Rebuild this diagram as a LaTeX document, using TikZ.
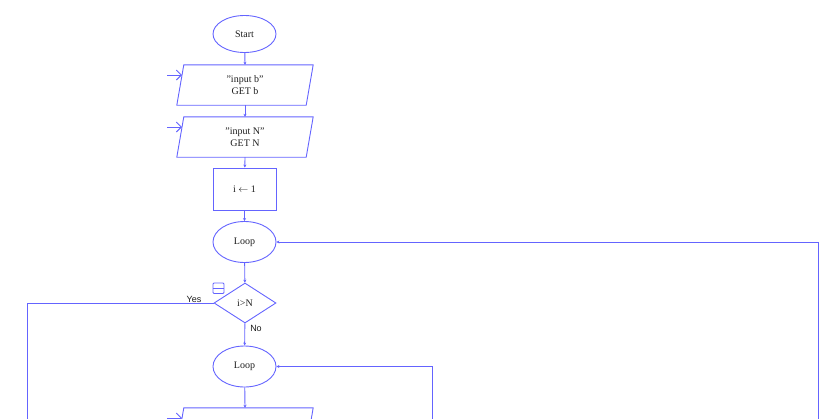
\documentclass[tikz,border=0pt]{standalone}
\usepackage{fontspec}
\setmainfont{Liberation Serif}
\newfontfamily\labfont{Liberation Sans}
\usetikzlibrary{shapes.geometric,arrows.meta}
\definecolor{fl}{RGB}{100,100,255}
\definecolor{tx}{RGB}{30,30,30}
\begin{document}
\begin{tikzpicture}[x=1pt,y=-1pt,
  every node/.style={text=tx,font=\fontsize{10}{11.5}\selectfont},
  term/.style={ellipse,draw=fl,line width=0.9pt,minimum width=63pt,minimum height=37pt,inner sep=0pt},
  io/.style={minimum width=129pt,minimum height=40pt,inner sep=0pt,align=center},
  proc/.style={rectangle,draw=fl,line width=0.9pt,minimum width=63pt,minimum height=42pt,inner sep=0pt},
  dec/.style={diamond,draw=fl,line width=0.9pt,minimum width=62pt,minimum height=40pt,shape aspect=1.55,inner sep=0pt},
  flow/.style={draw=fl,line width=0.9pt,-{Stealth[length=3pt,width=3pt]}},
  plain/.style={draw=fl,line width=0.9pt},
  inarr/.style={draw=fl,line width=0.9pt,-{Straight Barb[length=5pt,width=10pt]}},
  lab/.style={font=\labfont\fontsize{9}{10}\selectfont,text=tx,inner sep=0pt}
]
\useasboundingbox (0,0) rectangle (826,418);

% nodes
\node[term] (start) at (244.5,34) {Start};
\node[io] (p1) at (245,85) {"input b"\\GET b};
\draw[plain] ([xshift=3.5pt]p1.north west) -- ([xshift=3.5pt]p1.north east) -- ([xshift=-3.5pt]p1.south east) -- ([xshift=-3.5pt]p1.south west) -- cycle;
\node[io] (p2) at (245,137) {"input N"\\GET N};
\draw[plain] ([xshift=3.5pt]p2.north west) -- ([xshift=3.5pt]p2.north east) -- ([xshift=-3.5pt]p2.south east) -- ([xshift=-3.5pt]p2.south west) -- cycle;
\node[proc] (init) at (244.5,189) {i $\leftarrow$ 1};
\node[term,minimum height=41pt] (loop1) at (244.5,242) {Loop};
\node[dec] (cond) at (245,303) {i>N};
\node[term,minimum height=41pt] (loop2) at (244.5,366.5) {Loop};
\node[io] (p3) at (245,428) {};
\draw[plain] ([xshift=3.5pt]p3.north west) -- ([xshift=3.5pt]p3.north east) -- ([xshift=-3.5pt]p3.south east) -- ([xshift=-3.5pt]p3.south west) -- cycle;

% input arrows
\coordinate (a1s) at (167,75);
\coordinate (a1e) at (182,75);
\coordinate (a2s) at (167,127);
\coordinate (a2e) at (182,127);
\coordinate (a3s) at (167,418);
\coordinate (a3e) at (182,418);
\draw[inarr] (a1s) -- (a1e);
\draw[inarr] (a2s) -- (a2e);
\draw[inarr] (a3s) -- (a3e);

% main flow
\draw[flow] (start) -- (p1.north);
\draw[flow] (p1.south) -- (p2.north);
\draw[flow] (p2.south) -- (init);
\draw[flow] (init) -- (loop1);
\draw[flow] (loop1) -- (cond);
\draw[flow] (cond) -- node[lab,pos=0.25,right=5pt] {No} (loop2);
\draw[flow] (loop2) -- (p3.north);

% yes branch
\coordinate (yesdown) at (27,425);
\draw[plain] (cond.west) -| (yesdown);
\node[lab] (yes) at (194,299.5) {Yes};

% loop-back lines
\coordinate (back1) at (818,425);
\coordinate (back2) at (432,425);
\draw[flow] (back1) |- (loop1.east);
\draw[flow] (back2) |- (loop2.east);

% small icon near decision
\draw[fl,line width=0.8pt,rounded corners=1pt] (213,283) rectangle (224,293.5);
\draw[fl,line width=0.8pt] (213,288.2) -- (224,288.2);
\end{tikzpicture}
\end{document}
